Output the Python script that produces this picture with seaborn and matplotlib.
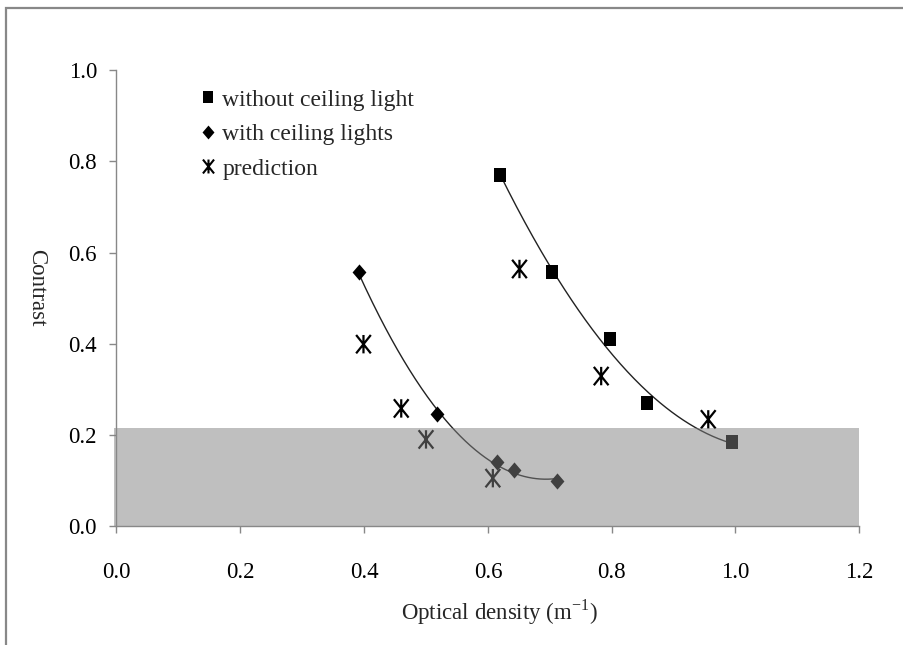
import numpy as np
import pandas as pd
import matplotlib
matplotlib.use("Agg")
import matplotlib.pyplot as plt
from matplotlib.path import Path
from matplotlib.patches import Rectangle
from matplotlib.lines import Line2D
import seaborn as sns

# ---- data ----
no_light_x = [0.620, 0.703, 0.797, 0.857, 0.995]
no_light_y = [0.770, 0.558, 0.410, 0.271, 0.185]

with_light_x = [0.391, 0.518, 0.615, 0.642, 0.712]
with_light_y = [0.558, 0.245, 0.140, 0.122, 0.099]

pred_x = [0.399, 0.460, 0.500, 0.608, 0.651, 0.783, 0.956]
pred_y = [0.399, 0.258, 0.190, 0.105, 0.564, 0.329, 0.234]

labels = ["without ceiling light", "with ceiling lights", "prediction"]
band_top = 0.214
xticks = [0.0, 0.2, 0.4, 0.6, 0.8, 1.0, 1.2]
yticks = [0.0, 0.2, 0.4, 0.6, 0.8, 1.0]

# ---- style ----
sns.set_style("white")
plt.rcParams["font.family"] = ["Liberation Serif", "DejaVu Serif"]
plt.rcParams["mathtext.fontset"] = "custom"
plt.rcParams["mathtext.rm"] = "Liberation Serif"

grey = "#888888"

# custom markers
rect_marker = Path([(-0.40, -0.5), (0.40, -0.5), (0.40, 0.5), (-0.40, 0.5), (-0.40, -0.5)],
                   [Path.MOVETO, Path.LINETO, Path.LINETO, Path.LINETO, Path.CLOSEPOLY])
diam_marker = Path([(0, -0.5), (0.43, 0), (0, 0.5), (-0.43, 0), (0, -0.5)],
                   [Path.MOVETO, Path.LINETO, Path.LINETO, Path.LINETO, Path.CLOSEPOLY])
star_marker = Path([(0, -0.5), (0, 0.5), (-0.4, -0.5), (0.4, 0.5), (-0.4, 0.5), (0.4, -0.5)],
                   [Path.MOVETO, Path.LINETO, Path.MOVETO, Path.LINETO, Path.MOVETO, Path.LINETO])

fig = plt.figure(figsize=(9.04, 6.45), dpi=100)
ax = fig.add_axes([116.5 / 904, 1 - 526 / 645, (859.3 - 116.5) / 904, (526 - 70.3) / 645])

df_a = pd.DataFrame({"x": no_light_x, "y": no_light_y})
df_b = pd.DataFrame({"x": with_light_x, "y": with_light_y})
df_c = pd.DataFrame({"x": pred_x, "y": pred_y})

# trend lines (2nd-order polynomial fits, like the spreadsheet trendlines)
for d in (df_a, df_b):
    coef = np.polyfit(d["x"], d["y"], 2)
    xs = np.linspace(d["x"].min(), d["x"].max(), 200)
    fit = pd.DataFrame({"x": xs, "y": np.polyval(coef, xs)})
    sns.lineplot(data=fit, x="x", y="y", ax=ax, color="#222222", lw=1.0, zorder=1)

sns.scatterplot(data=df_a, x="x", y="y", ax=ax, marker=rect_marker, s=105,
                color="black", edgecolor="black", linewidth=0, zorder=2)
sns.scatterplot(data=df_b, x="x", y="y", ax=ax, marker=diam_marker, s=135,
                color="black", edgecolor="black", linewidth=0, zorder=2)
ax.scatter(df_c["x"], df_c["y"], marker=star_marker, s=175, facecolor="none",
           edgecolor="black", linewidth=1.6, zorder=2)

# shaded band (semi-transparent, drawn over the marks)
ax.fill_between([-0.004, 1.2], 0, band_top, color="#808080", alpha=0.5,
                linewidth=0, zorder=3, clip_on=False)

ax.set_xlim(0, 1.2)
ax.set_ylim(0, 1.0)
ax.set_xticks(xticks)
ax.set_yticks(yticks)
ax.set_xticklabels([f"{v:.1f}" for v in xticks])
ax.set_yticklabels([f"{v:.1f}" for v in yticks])

for s in ("top", "right"):
    ax.spines[s].set_visible(False)
for s in ("left", "bottom"):
    ax.spines[s].set_color(grey)
    ax.spines[s].set_linewidth(1.0)
    ax.spines[s].set_zorder(4)

ax.tick_params(axis="both", direction="out", length=5, width=1.0, color=grey,
               labelsize=16.5, labelcolor="black")
ax.tick_params(axis="y", pad=9, left=True)
ax.tick_params(axis="x", pad=21, bottom=True)

ax.set_xlabel("Optical density (m$^{\\mathregular{-1}}$)", fontsize=16.5)
ax.set_ylabel("Contrast", fontsize=16.5, rotation=270)
ax.xaxis.set_label_coords((499 - 116.5) / 742.8, (526 - 612) / 455.7)
ax.xaxis.label.set_va("center")
ax.yaxis.set_label_coords((37 - 116.5) / 742.8, (526 - 288) / 455.7)
ax.yaxis.label.set_va("center")
ax.yaxis.label.set_ha("center")

handles = [
    Line2D([], [], linestyle="none", marker=rect_marker, markersize=9,
           markerfacecolor="black", markeredgewidth=0),
    Line2D([], [], linestyle="none", marker=diam_marker, markersize=10,
           markerfacecolor="black", markeredgewidth=0),
    Line2D([], [], linestyle="none", marker=star_marker, markersize=10,
           markerfacecolor="none", markeredgecolor="black", markeredgewidth=1.5),
]
ax.legend(handles, labels, loc="upper left",
          bbox_to_anchor=((200 - 116.5) / 742.8, (526 - 89) / 455.7),
          frameon=False, fontsize=17, handlelength=0.7, handletextpad=0.25,
          labelspacing=0.55, borderpad=0, borderaxespad=0)

# outer frame (top and left visible)
fig.add_artist(Rectangle((6 / 904, -0.1), 1.2, 1 + 0.1 - 7.5 / 645,
                         transform=fig.transFigure, fill=False,
                         edgecolor=grey, linewidth=1.6, clip_on=False))

fig.savefig("out.png", dpi=100)
